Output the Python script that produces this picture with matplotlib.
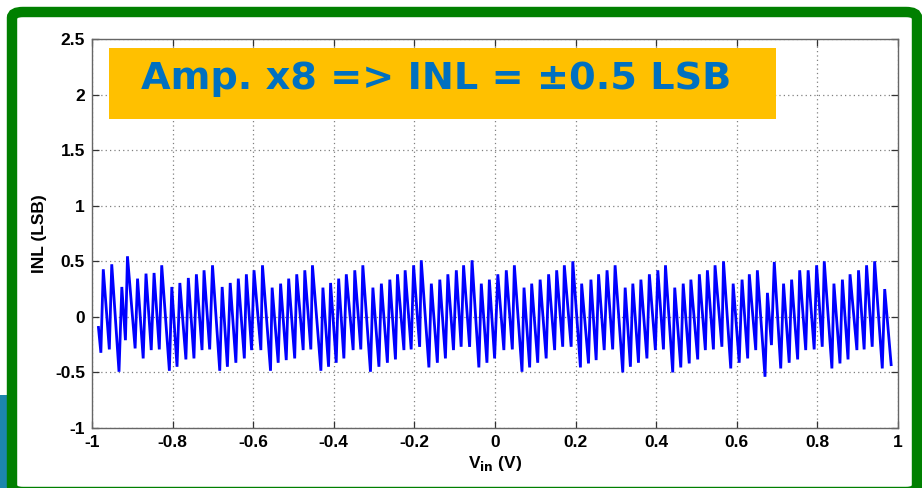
import matplotlib
matplotlib.use("Agg")
import matplotlib.pyplot as plt
from matplotlib.patches import FancyBboxPatch, Rectangle

# INL trace: input voltage (V) and integral nonlinearity (LSB) at each turning point
vin = [
    -0.984, -0.978, -0.972, -0.957, -0.951, -0.933, -0.926, -0.917, -0.912, -0.893,
    -0.887, -0.873, -0.866, -0.853, -0.846, -0.833, -0.827, -0.808, -0.802, -0.789,
    -0.782, -0.767, -0.761, -0.747, -0.741, -0.727, -0.722, -0.708, -0.701, -0.683,
    -0.677, -0.664, -0.657, -0.643, -0.637, -0.622, -0.617, -0.604, -0.598, -0.581,
    -0.577, -0.557, -0.553, -0.538, -0.532, -0.518, -0.512, -0.497, -0.492, -0.476,
    -0.472, -0.457, -0.453, -0.432, -0.427, -0.413, -0.408, -0.394, -0.388, -0.375,
    -0.369, -0.352, -0.348, -0.333, -0.328, -0.309, -0.303, -0.288, -0.282, -0.267,
    -0.261, -0.247, -0.242, -0.226, -0.223, -0.208, -0.202, -0.187, -0.183, -0.164,
    -0.158, -0.143, -0.137, -0.123, -0.117, -0.103, -0.096, -0.084, -0.078, -0.063,
    -0.057, -0.040, -0.034, -0.020, -0.014, -0.001, 0.007, 0.022, 0.028, 0.043,
    0.048, 0.067, 0.072, 0.086, 0.091, 0.106, 0.112, 0.127, 0.133, 0.148,
    0.153, 0.168, 0.172, 0.189, 0.193, 0.212, 0.215, 0.232, 0.238, 0.251,
    0.257, 0.271, 0.278, 0.292, 0.298, 0.317, 0.323, 0.336, 0.342, 0.356,
    0.362, 0.377, 0.383, 0.398, 0.404, 0.418, 0.423, 0.441, 0.446, 0.461,
    0.467, 0.482, 0.486, 0.503, 0.507, 0.522, 0.527, 0.542, 0.546, 0.563,
    0.567, 0.585, 0.591, 0.606, 0.613, 0.627, 0.631, 0.647, 0.651, 0.670,
    0.676, 0.686, 0.693, 0.709, 0.716, 0.730, 0.736, 0.751, 0.756, 0.771,
    0.777, 0.792, 0.798, 0.812, 0.817, 0.836, 0.841, 0.856, 0.862, 0.876,
    0.881, 0.898, 0.902, 0.916, 0.922, 0.936, 0.942, 0.961, 0.967, 0.983,
]
inl = [
    -0.095, -0.323, 0.428, -0.293, 0.473, -0.494, 0.269, -0.210, 0.545, -0.284,
    0.344, -0.374, 0.389, -0.299, 0.395, -0.293, 0.464, -0.485, 0.269, -0.449,
    0.305, -0.383, 0.350, -0.374, 0.383, -0.299, 0.419, -0.293, 0.464, -0.485,
    0.269, -0.449, 0.305, -0.413, 0.344, -0.374, 0.383, -0.299, 0.419, -0.299,
    0.464, -0.485, 0.263, -0.413, 0.299, -0.389, 0.344, -0.374, 0.383, -0.299,
    0.419, -0.293, 0.464, -0.485, 0.263, -0.449, 0.305, -0.413, 0.344, -0.374,
    0.383, -0.299, 0.419, -0.293, 0.464, -0.494, 0.263, -0.449, 0.299, -0.413,
    0.335, -0.383, 0.383, -0.299, 0.419, -0.293, 0.464, -0.270, 0.509, -0.455,
    0.299, -0.413, 0.335, -0.374, 0.383, -0.299, 0.419, -0.269, 0.464, -0.270,
    0.509, -0.455, 0.299, -0.413, 0.335, -0.374, 0.383, -0.299, 0.419, -0.293,
    0.464, -0.494, 0.263, -0.455, 0.299, -0.413, 0.335, -0.374, 0.383, -0.299,
    0.419, -0.269, 0.464, -0.269, 0.500, -0.455, 0.299, -0.419, 0.335, -0.389,
    0.383, -0.299, 0.419, -0.293, 0.464, -0.500, 0.263, -0.449, 0.299, -0.413,
    0.335, -0.374, 0.383, -0.299, 0.419, -0.293, 0.464, -0.500, 0.263, -0.455,
    0.299, -0.419, 0.335, -0.383, 0.383, -0.299, 0.419, -0.293, 0.464, -0.269,
    0.500, -0.464, 0.299, -0.413, 0.335, -0.374, 0.383, -0.299, 0.419, -0.539,
    0.216, -0.254, 0.494, -0.464, 0.299, -0.413, 0.335, -0.383, 0.419, -0.299,
    0.419, -0.293, 0.464, -0.269, 0.500, -0.464, 0.299, -0.419, 0.335, -0.383,
    0.383, -0.299, 0.419, -0.293, 0.464, -0.269, 0.500, -0.464, 0.250, -0.430,
]

x_ticks = [-1, -0.8, -0.6, -0.4, -0.2, 0, 0.2, 0.4, 0.6, 0.8, 1]
x_tick_labels = ["-1", "-0.8", "-0.6", "-0.4", "-0.2", "0", "0.2", "0.4", "0.6", "0.8", "1"]
y_ticks = [-1, -0.5, 0, 0.5, 1, 1.5, 2, 2.5]
y_tick_labels = ["-1", "-0.5", "0", "0.5", "1", "1.5", "2", "2.5"]
banner_text = "Amp. x8 => INL = \u00b10.5 LSB"

W, H = 922, 488
fig = plt.figure(figsize=(W / 100, H / 100), dpi=100)
fig.patch.set_facecolor("white")


def fx(px):
    return px / W


def fy(py):
    return 1 - py / H


# slide background peeking at lower left
fig.patches.append(Rectangle((0, 0), fx(8), fy(395), transform=fig.transFigure,
                             facecolor="#1c86ad", edgecolor="none", zorder=0))
# green rounded frame
frame = FancyBboxPatch((fx(12), fy(492)), fx(917) - fx(12), fy(12) - fy(492),
                       boxstyle="round,pad=0,rounding_size=0.012",
                       transform=fig.transFigure, facecolor="white",
                       edgecolor="#008000", linewidth=7.5, zorder=1)
fig.patches.append(frame)

ax = fig.add_axes([fx(92), fy(428), fx(898) - fx(92), fy(39) - fy(428)])
ax.set_zorder(2)
ax.set_facecolor("white")
ax.plot(vin, inl, color="#0000ff", linewidth=2.0, solid_joinstyle="miter")

ax.set_xlim(-1, 1)
ax.set_ylim(-1, 2.5)
ax.set_xticks(x_ticks)
ax.set_xticklabels(x_tick_labels)
ax.set_yticks(y_ticks)
ax.set_yticklabels(y_tick_labels)
ax.grid(True, linestyle=(0, (1, 2.5)), color="#808080", linewidth=0.9)
ax.tick_params(direction="in", length=5, width=0.9, color="#333333",
               top=True, right=True, labelsize=12.5, pad=5)
for lab in ax.get_xticklabels() + ax.get_yticklabels():
    lab.set_fontfamily("Liberation Sans")
    lab.set_fontweight("bold")
for sp in ax.spines.values():
    sp.set_color("#666666")
    sp.set_linewidth(1.0)

ax.set_ylabel("INL (LSB)", fontfamily="Liberation Sans", fontweight="bold",
              fontsize=12.5, labelpad=6)
ax.set_xlabel(r"V$_{\mathbf{in}}$ (V)", fontfamily="Liberation Sans",
              fontweight="bold", fontsize=12.5, labelpad=3)

# banner
fig.patches.append(Rectangle((fx(109), fy(119)), fx(776) - fx(109), fy(48) - fy(119),
                             transform=fig.transFigure, facecolor="#ffc000",
                             edgecolor="none", zorder=3))
fig.text(fx(141), fy(79), banner_text, fontfamily="DejaVu Sans", fontweight="bold",
         fontsize=27.5, color="#0070c0", ha="left", va="center", zorder=4)

fig.savefig("out.png", dpi=100)
